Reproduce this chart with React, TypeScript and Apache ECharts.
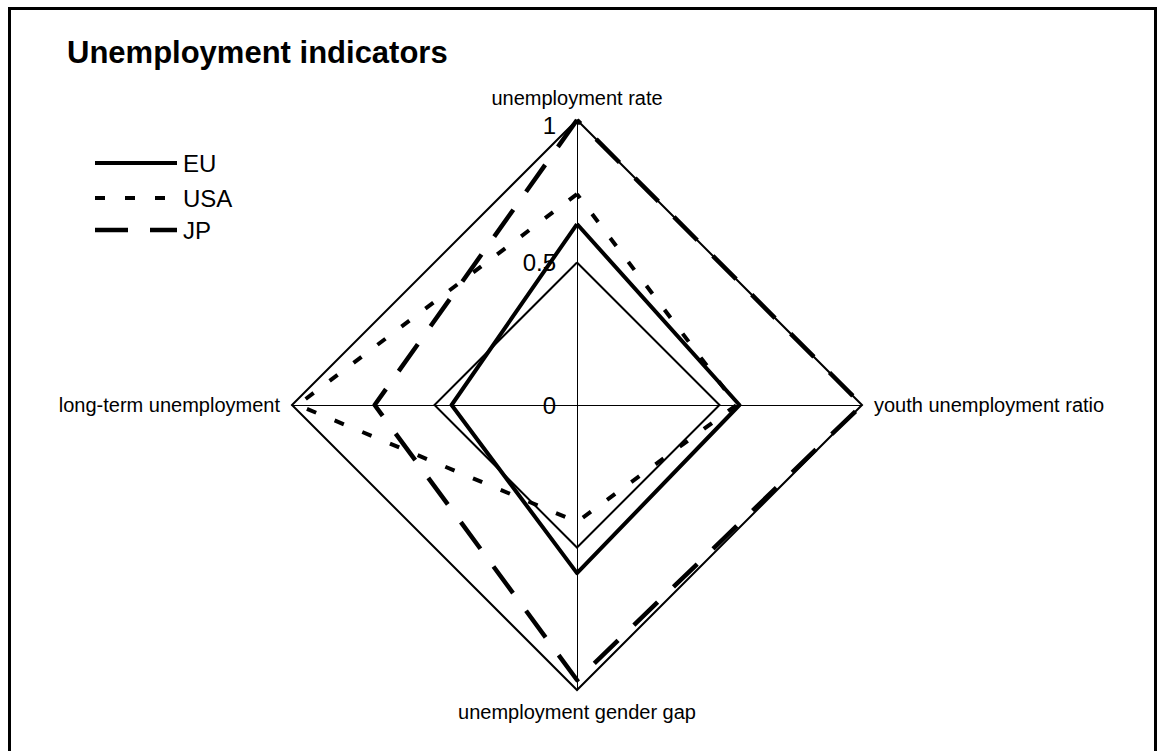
import React, { useEffect, useRef } from "react";
import * as echarts from "echarts";

const indicatorNames = [
  "unemployment rate",
  "long-term unemployment",
  "unemployment gender gap",
  "youth unemployment ratio",
];
const seriesNames = ["EU", "USA", "JP"];
const euValues = [0.635, 0.44, 0.59, 0.57];
const usaValues = [0.74, 0.98, 0.41, 0.56];
const jpValues = [1.0, 0.71, 0.965, 1.0];
const tickLabels = ["0", "0.5", "1"];
const axisMax = 1;

const FONT = "Liberation Sans, Arial, sans-serif";

export default function App() {
  const ref = useRef<HTMLDivElement>(null);
  useEffect(() => {
    if (!ref.current) return;
    const chart = echarts.init(ref.current, null, { renderer: "svg" });
    const values = [euValues, usaValues, jpValues];
    const dashes: any[] = ["solid", [10, 20], [33, 22]];
    const widths = [4, 4, 4.5];
    const legendY = [163, 198, 230];
    const legendGraphics: any[] = [];
    seriesNames.forEach((n, i) => {
      legendGraphics.push({
        type: "line",
        shape: { x1: 95, y1: legendY[i], x2: 177, y2: legendY[i] },
        style: {
          stroke: "#000",
          lineWidth: widths[i],
          lineDash: dashes[i] === "solid" ? null : dashes[i],
        },
      });
      legendGraphics.push({
        type: "text",
        x: 183,
        y: legendY[i],
        style: {
          text: n,
          fill: "#000",
          font: `24px ${FONT}`,
          verticalAlign: "middle",
        },
      });
    });
    chart.setOption({
      animation: false,
      backgroundColor: "#fff",
      title: {
        text: "Unemployment indicators",
        left: 62,
        top: 32,
        textStyle: { fontSize: 31, fontWeight: "bold", color: "#000", fontFamily: FONT },
      },
      legend: { show: false },
      radar: {
        center: [577, 405],
        radius: 285,
        startAngle: 90,
        shape: "polygon",
        splitNumber: 2,
        nameGap: 12,
        indicator: indicatorNames.map((name) => ({ name, min: 0, max: axisMax })),
        axisName: { color: "#000", fontSize: 20, fontFamily: FONT },
        axisLine: { lineStyle: { color: "#000", width: 1 } },
        splitLine: { lineStyle: { color: "#000", width: 2 } },
        splitArea: { show: false },
        axisLabel: { show: false },
      },
      polar: { center: [577, 405], radius: 285 },
      angleAxis: { show: false, startAngle: 90, min: 0, max: 360 },
      radiusAxis: {
        min: 0,
        max: axisMax,
        interval: 0.5,
        axisLine: { show: false },
        axisTick: { show: false },
        splitLine: { show: false },
        axisLabel: {
          show: true,
          color: "#000",
          fontSize: 24,
          fontFamily: FONT,
          margin: 21,
          formatter: (v: number) => {
            const t = tickLabels[Math.round(v / 0.5)] ?? String(v);
            return v >= axisMax ? `{top|${t}}` : t;
          },
          rich: {
            top: {
              fontSize: 24,
              fontFamily: FONT,
              color: "#000",
              padding: [10, 0, 0, 0],
            },
          },
        },
      },
      series: [
        {
          type: "radar",
          symbol: "none",
          data: seriesNames.map((name, i) => ({
            name,
            value: values[i],
            lineStyle: { color: "#000", width: widths[i], type: dashes[i] },
            itemStyle: { color: "#000" },
          })),
        },
      ],
      graphic: [
        {
          type: "rect",
          shape: { x: 9.5, y: 8.5, width: 1146, height: 760 },
          style: { fill: "none", stroke: "#000", lineWidth: 3 },
          silent: true,
        },
        ...legendGraphics,
      ],
    });
    return () => chart.dispose();
  }, []);
  return (
    <div
      ref={ref}
      style={{ position: "fixed", left: 0, top: 0, width: 1160, height: 751, background: "#fff" }}
    />
  );
}
